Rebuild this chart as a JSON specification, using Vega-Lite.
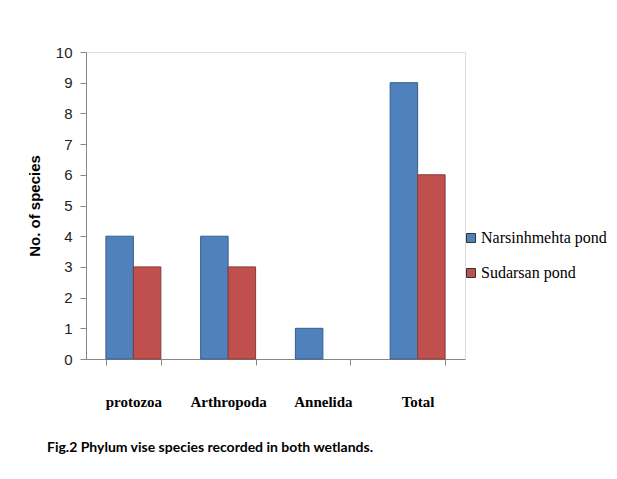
{
  "$schema": "https://vega.github.io/schema/vega-lite/v6.json",
  "width": 379,
  "height": 307,
  "autosize": {"type": "none"},
  "padding": {"left": 86, "top": 52, "right": 152, "bottom": 120},
  "background": "white",
  "title": {
    "text": "Fig.2 Phylum vise species recorded in both wetlands.",
    "orient": "bottom",
    "anchor": "start",
    "frame": "group",
    "dx": -39,
    "offset": 32,
    "font": "Lato",
    "fontSize": 14,
    "fontWeight": "bold",
    "color": "#000000"
  },
  "data": {
    "values": [
      {"phylum": "protozoa", "series": "Narsinhmehta pond", "count": 4},
      {"phylum": "protozoa", "series": "Sudarsan pond", "count": 3},
      {"phylum": "Arthropoda", "series": "Narsinhmehta pond", "count": 4},
      {"phylum": "Arthropoda", "series": "Sudarsan pond", "count": 3},
      {"phylum": "Annelida", "series": "Narsinhmehta pond", "count": 1},
      {"phylum": "Annelida", "series": "Sudarsan pond", "count": 0},
      {"phylum": "Total", "series": "Narsinhmehta pond", "count": 9},
      {"phylum": "Total", "series": "Sudarsan pond", "count": 6}
    ]
  },
  "mark": {"type": "bar", "strokeWidth": 1},
  "encoding": {
    "x": {
      "field": "phylum",
      "type": "nominal",
      "sort": ["protozoa", "Arthropoda", "Annelida", "Total"],
      "scale": {"paddingInner": 0.42, "paddingOuter": 0.21},
      "axis": {
        "title": null,
        "labelAngle": 0,
        "labelFont": "Liberation Serif",
        "labelFontSize": 15,
        "labelFontWeight": "bold",
        "labelColor": "#000000",
        "labelPadding": 29,
        "tickBand": "extent",
        "tickSize": 6,
        "tickColor": "#868686",
        "domainColor": "#868686"
      }
    },
    "xOffset": {"field": "series", "type": "nominal", "scale": {"paddingInner": 0}},
    "y": {
      "field": "count",
      "type": "quantitative",
      "scale": {"domain": [0, 10], "nice": false},
      "axis": {
        "title": "No. of species",
        "titleFont": "Liberation Sans",
        "titleFontSize": 15,
        "titleFontWeight": "bold",
        "titleColor": "#000000",
        "titlePadding": 13,
        "values": [0, 1, 2, 3, 4, 5, 6, 7, 8, 9, 10],
        "grid": false,
        "labelFont": "Liberation Sans",
        "labelFontSize": 15,
        "labelColor": "#222222",
        "labelPadding": 8,
        "tickSize": 6,
        "tickColor": "#868686",
        "domainColor": "#868686"
      }
    },
    "color": {
      "field": "series",
      "type": "nominal",
      "scale": {"domain": ["Narsinhmehta pond", "Sudarsan pond"], "range": ["#4F81BD", "#C0504D"]},
      "legend": {
        "title": null,
        "orient": "none",
        "legendX": 377,
        "legendY": 178,
        "symbolType": "square",
        "symbolSize": 81,
        "symbolStrokeColor": "#333333",
        "symbolStrokeWidth": 1,
        "labelFont": "Liberation Serif",
        "labelFontSize": 16,
        "labelColor": "#000000",
        "labelOffset": 2,
        "labelLimit": 200,
        "rowPadding": 19
      }
    },
    "stroke": {
      "condition": {"test": "datum.series === 'Sudarsan pond'", "value": "#8C3836"},
      "value": "#385D8A"
    },
    "strokeOpacity": {
      "condition": {"test": "datum.count === 0", "value": 0},
      "value": 1
    }
  }
}
